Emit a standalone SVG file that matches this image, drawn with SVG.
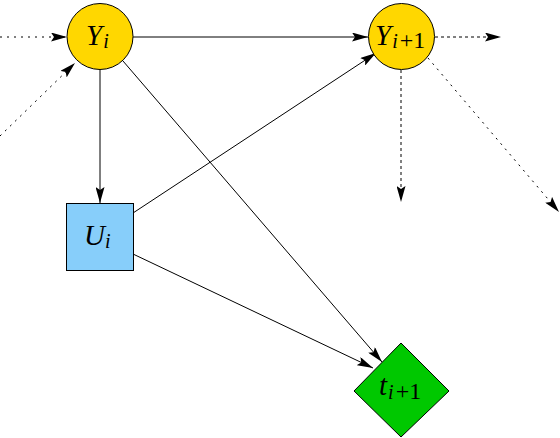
<svg xmlns="http://www.w3.org/2000/svg" width="560" height="438" viewBox="0 0 560 438">
<style>
.n{stroke:#000;stroke-width:1}
.e{stroke:#000;stroke-width:1;fill:none}
.dot{stroke-dasharray:2,5}
.dash{stroke-dasharray:3,3}
.t{font-family:"Liberation Serif","Times New Roman",serif;font-size:29px;fill:#000;font-style:italic}
.s{font-size:20px}
.p{font-size:24px;font-style:normal}
</style>
<defs>
<marker id="a" viewBox="0 0 16 9" refX="16" refY="4.5" markerWidth="16" markerHeight="9" markerUnits="userSpaceOnUse" orient="auto">
<path d="M0,0 L16,4.5 L0,9 L3,4.5 Z" fill="#000"/>
</marker>
</defs>
<rect width="560" height="438" fill="#fff"/>
<g id="connectors">
<line class="e dot" x1="0" y1="37" x2="67" y2="37" marker-end="url(#a)"/>
<line class="e dot" x1="0" y1="136" x2="75" y2="63" marker-end="url(#a)"/>
<line class="e" x1="133" y1="37" x2="368" y2="37" marker-end="url(#a)"/>
<line class="e" x1="100" y1="70" x2="100" y2="203" marker-end="url(#a)"/>
<line class="e" x1="123" y1="61" x2="382" y2="362" marker-end="url(#a)"/>
<line class="e" x1="133" y1="213" x2="376" y2="53" marker-end="url(#a)"/>
<line class="e" x1="133" y1="254" x2="373" y2="368" marker-end="url(#a)"/>
<line class="e dash" x1="435" y1="37" x2="501" y2="37" marker-end="url(#a)"/>
<line class="e dash" x1="401" y1="70" x2="401" y2="202" marker-end="url(#a)"/>
<line class="e dot" x1="428" y1="58" x2="559" y2="212" marker-end="url(#a)"/>
</g>
<g id="Yi">
<circle class="n" cx="100" cy="36.5" r="33" fill="#ffd700"/>
<text class="t" x="86" y="45">Y<tspan class="s" dy="3" dx="1">i</tspan></text>
</g>
<g id="Yi1">
<circle class="n" cx="401.5" cy="36.5" r="33" fill="#ffd700"/>
<text class="t" x="375" y="45">Y<tspan class="s" dy="3" dx="1">i</tspan><tspan class="p" dx="2">+1</tspan></text>
</g>
<g id="Ui">
<rect class="n" x="66.5" y="203.5" width="67" height="67" fill="#87cefa"/>
<text class="t" x="84" y="245">U<tspan class="s" dy="3">i</tspan></text>
</g>
<g id="ti1">
<polygon class="n" points="401,343 449,391 401,437 354,391" fill="#00c800"/>
<text class="t" x="379" y="395">t<tspan class="s" dy="4" dx="1">i</tspan><tspan class="p" dx="2">+1</tspan></text>
</g>
</svg>
